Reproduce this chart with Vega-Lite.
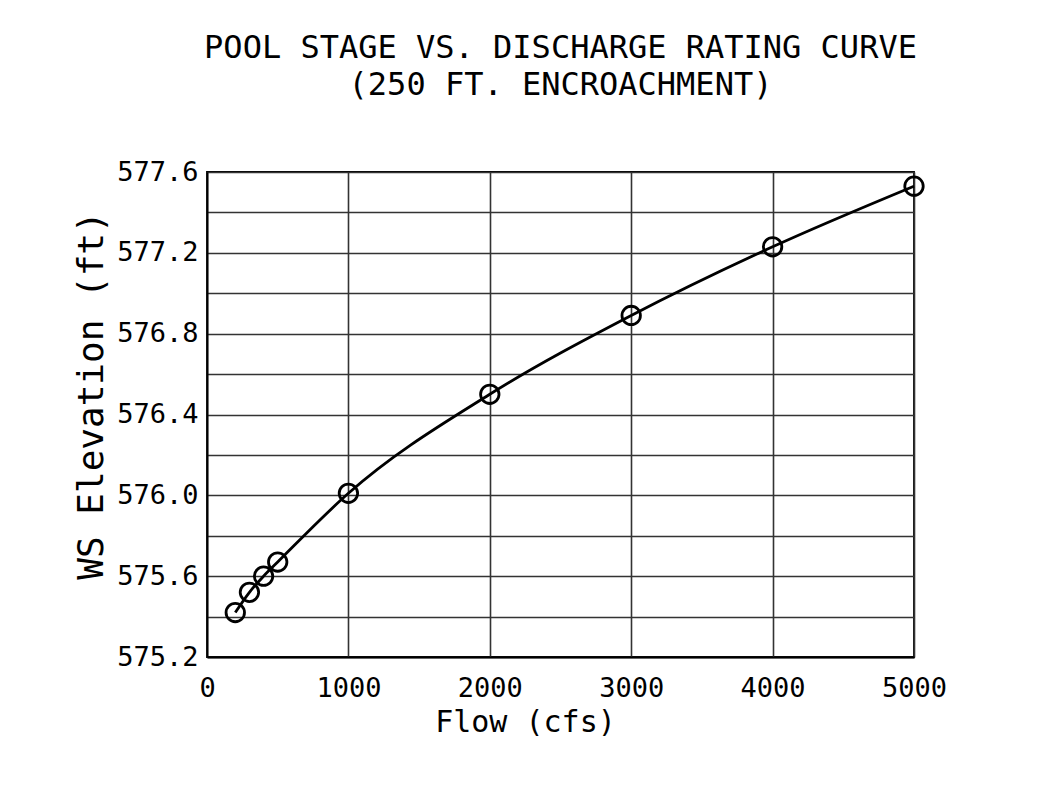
{
  "$schema": "https://vega.github.io/schema/vega-lite/v6.json",
  "width": 707,
  "height": 485,
  "autosize": {"type": "none"},
  "padding": {"left": 207, "top": 172, "right": 124, "bottom": 129},
  "background": "white",
  "title": {
    "text": ["POOL STAGE VS. DISCHARGE RATING CURVE", "(250 FT. ENCROACHMENT)"],
    "font": "DejaVu Sans Mono",
    "fontSize": 32,
    "fontWeight": "normal",
    "color": "black",
    "anchor": "middle",
    "offset": 56,
    "lineHeight": 37
  },
  "config": {
    "view": {"stroke": "black", "strokeWidth": 1.8},
    "axis": {
      "labelFont": "DejaVu Sans Mono",
      "labelFontSize": 27,
      "labelColor": "black",
      "labelFlush": false,
      "titleFont": "DejaVu Sans Mono",
      "titleFontWeight": "normal",
      "titleColor": "black",
      "ticks": false,
      "domainColor": "black",
      "domainWidth": 1.8,
      "grid": true,
      "gridColor": "#333333",
      "gridWidth": 1.6,
      "gridOpacity": 1
    }
  },
  "data": {
    "values": [
      {"flow": 200, "elev": 575.42},
      {"flow": 300, "elev": 575.52},
      {"flow": 400, "elev": 575.60},
      {"flow": 500, "elev": 575.67},
      {"flow": 1000, "elev": 576.01},
      {"flow": 2000, "elev": 576.50},
      {"flow": 3000, "elev": 576.89},
      {"flow": 4000, "elev": 577.23},
      {"flow": 5000, "elev": 577.53}
    ]
  },
  "encoding": {
    "x": {
      "field": "flow",
      "type": "quantitative",
      "scale": {"domain": [0, 5000], "nice": false, "zero": false},
      "axis": {
        "values": [0, 1000, 2000, 3000, 4000, 5000],
        "title": "Flow (cfs)",
        "titleFontSize": 30,
        "titlePadding": 6,
        "titleX": 318,
        "labelPadding": 18,
        "format": "d"
      }
    },
    "y": {
      "field": "elev",
      "type": "quantitative",
      "scale": {"domain": [575.2, 577.6], "nice": false, "zero": false},
      "axis": {
        "values": [575.2, 575.4, 575.6, 575.8, 576.0, 576.2, 576.4, 576.6, 576.8, 577.0, 577.2, 577.4, 577.6],
        "labelExpr": "round((datum.value - 575.2) * 10) % 4 == 0 ? format(datum.value, '.1f') : ''",
        "title": "WS Elevation (ft)",
        "titleFontSize": 36,
        "titlePadding": 6,
        "titleY": 223,
        "labelPadding": 9
      }
    }
  },
  "layer": [
    {
      "mark": {"type": "line", "interpolate": "monotone", "color": "black", "strokeWidth": 2.8}
    },
    {
      "mark": {"type": "point", "shape": "circle", "size": 340, "color": "black", "strokeWidth": 2.8, "filled": false, "opacity": 1}
    }
  ]
}
